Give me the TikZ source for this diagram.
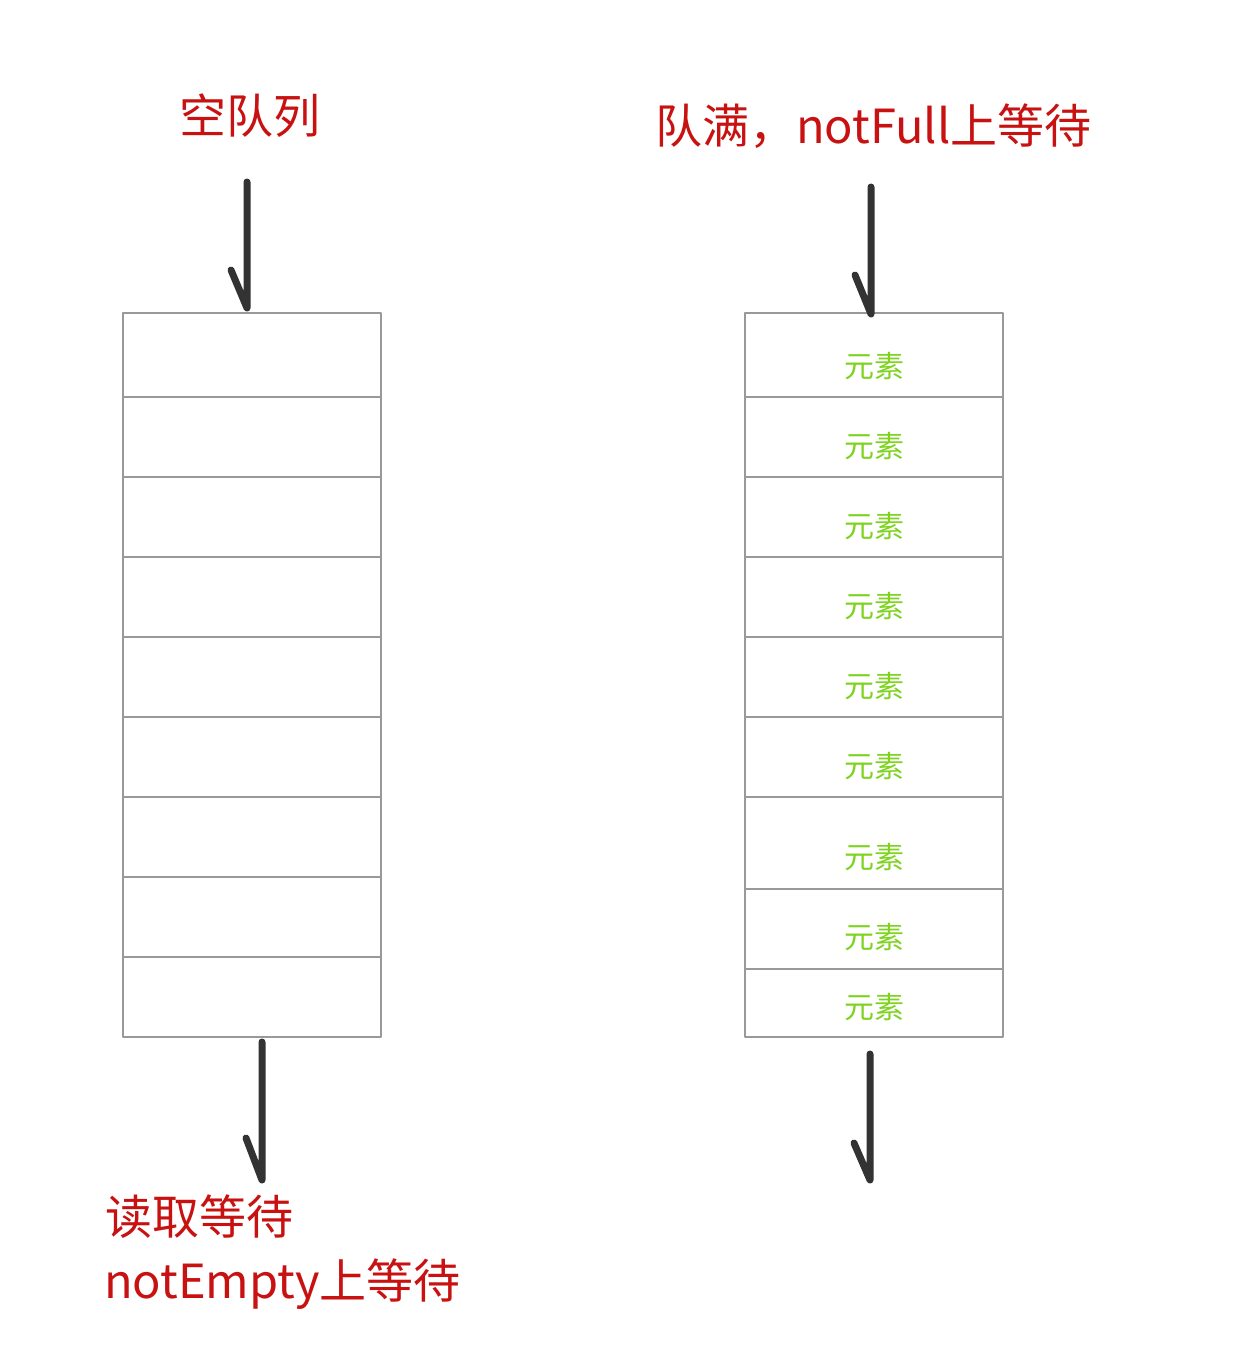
\documentclass[tikz,border=0pt]{standalone}
\usepackage{fontspec}
\setmainfont{Noto Sans CJK SC}

\definecolor{labelred}{RGB}{200,18,18}
\definecolor{elemgreen}{RGB}{126,211,33}
\definecolor{cellgray}{RGB}{153,153,153}
\definecolor{arrowgray}{RGB}{51,51,51}

\begin{document}
\begin{tikzpicture}[
            x = 1pt, y = -1pt, % pixel grid, y grows downwards
            line cap = round,
            line join = round
        ]

        \tikzstyle{cell}=[
            rectangle,
            draw = cellgray,
            line width = 2pt,
            minimum width = 258pt,
            inner sep = 0pt
        ]
        \tikzstyle{elem}=[text = elemgreen, font = \fontsize{30}{36}\selectfont]
        \tikzstyle{title}=[text = labelred, font = \fontsize{47}{56}\selectfont, inner sep = 0pt]
        \tikzstyle{handarrow}=[draw = arrowgray, line width = 7pt]

        \useasboundingbox (0,0) rectangle (1234,1352);

        % empty queue
        \node[cell, minimum height = 84pt] (l1) at ( 252 ,  355 ) {};
        \node[cell, minimum height = 80pt] (l2) at ( 252 ,  437 ) {};
        \node[cell, minimum height = 80pt] (l3) at ( 252 ,  517 ) {};
        \node[cell, minimum height = 80pt] (l4) at ( 252 ,  597 ) {};
        \node[cell, minimum height = 80pt] (l5) at ( 252 ,  677 ) {};
        \node[cell, minimum height = 80pt] (l6) at ( 252 ,  757 ) {};
        \node[cell, minimum height = 80pt] (l7) at ( 252 ,  837 ) {};
        \node[cell, minimum height = 80pt] (l8) at ( 252 ,  917 ) {};
        \node[cell, minimum height = 80pt] (l9) at ( 252 ,  997 ) {};

        % full queue
        \node[cell, minimum height = 84pt] (r1) at ( 874 ,  355 ) {};
        \node[cell, minimum height = 80pt] (r2) at ( 874 ,  437 ) {};
        \node[cell, minimum height = 80pt] (r3) at ( 874 ,  517 ) {};
        \node[cell, minimum height = 80pt] (r4) at ( 874 ,  597 ) {};
        \node[cell, minimum height = 80pt] (r5) at ( 874 ,  677 ) {};
        \node[cell, minimum height = 80pt] (r6) at ( 874 ,  757 ) {};
        \node[cell, minimum height = 92pt] (r7) at ( 874 ,  843 ) {};
        \node[cell, minimum height = 80pt] (r8) at ( 874 ,  929 ) {};
        \node[cell, minimum height = 68pt] (r9) at ( 874 , 1003 ) {};

        \node[elem] (e1) at ( 874 ,  366 ) {元素};
        \node[elem] (e2) at ( 874 ,  446 ) {元素};
        \node[elem] (e3) at ( 874 ,  526 ) {元素};
        \node[elem] (e4) at ( 874 ,  606 ) {元素};
        \node[elem] (e5) at ( 874 ,  686 ) {元素};
        \node[elem] (e6) at ( 874 ,  766 ) {元素};
        \node[elem] (e7) at ( 874 ,  857 ) {元素};
        \node[elem] (e8) at ( 874 ,  937 ) {元素};
        \node[elem] (e9) at ( 874 , 1007 ) {元素};

        % labels
        \node[title, anchor = base]      (emptyq) at ( 250 ,  133 ) {空队列};
        \node[title, anchor = base west] (fullq)  at ( 655 ,  143 ) {队满，notFull上等待};
        \node[title, anchor = base west] (take)   at ( 105 , 1234 ) {读取等待};
        \node[title, anchor = base west] (wait)   at ( 104 , 1298 ) {notEmpty上等待};

        % hand drawn arrows
        \coordinate (ltop) at ( 247 ,  182 );
        \coordinate (rtop) at ( 871 ,  187 );
        \coordinate (lbot) at ( 262 , 1180 );
        \coordinate (rbot) at ( 870 , 1180 );

        \draw[handarrow] (ltop) -- ([yshift = 4pt] l1.north -| ltop) -- ++(-16,-38);
        \draw[handarrow] (rtop) -- ([yshift = -2pt] r1.north -| rtop) -- ++(-16,-39);
        \draw[handarrow] ([yshift = -4pt] l9.south -| lbot) -- (lbot) -- ++(-16,-42);
        \draw[handarrow] ([yshift = -16pt] r9.south -| rbot) -- (rbot) -- ++(-16,-37);

    \end{tikzpicture}
\end{document}
